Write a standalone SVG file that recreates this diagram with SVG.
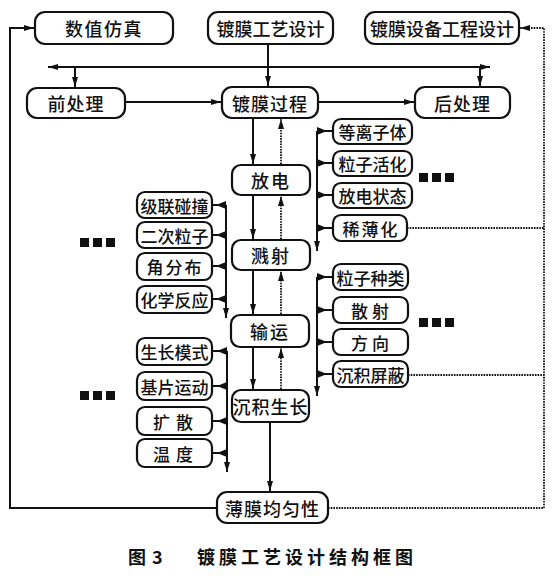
<svg xmlns="http://www.w3.org/2000/svg" width="553" height="580" viewBox="0 0 553 580">
<style>
.box{fill:#fff;stroke:#111;stroke-width:2.2}
.t{font-family:"Noto Sans CJK SC","Noto Sans CJK JP",sans-serif;font-size:18px;font-weight:500;fill:#111;text-anchor:middle;dominant-baseline:central}
.s{font-size:17px}
.ln{fill:none;stroke:#111;stroke-width:2}
.dt{fill:none;stroke:#111;stroke-width:1.8;stroke-dasharray:1.6 1.1}
.cap{font-family:"Noto Sans CJK SC","Noto Sans CJK JP",sans-serif;font-size:18px;font-weight:bold;fill:#111}
</style>
<defs>
<marker id="ah" viewBox="0 0 10 6" refX="10" refY="3" markerWidth="10" markerHeight="6" markerUnits="userSpaceOnUse" orient="auto"><path d="M0,0 L10,3 L0,6 z" fill="#111"/></marker>
<marker id="jt" viewBox="0 0 10 8" refX="0" refY="4" markerWidth="10" markerHeight="8" markerUnits="userSpaceOnUse" orient="auto"><path d="M0,0 L10,4 L0,8 z" fill="#111"/></marker>
</defs>

<g id="connectors">
  <path class="ln" d="M268,44 V86" marker-end="url(#ah)"/>
  <path class="ln" d="M268,67 H48" marker-end="url(#ah)"/>
  <path class="ln" d="M268,67 H490" marker-end="url(#ah)"/>
  <path class="ln" d="M75,67 V87" marker-end="url(#ah)"/>
  <path class="ln" d="M480,67 V86" marker-end="url(#ah)"/>
  <path class="ln" d="M125,102 H221" marker-end="url(#ah)"/>
  <path class="ln" d="M318,102 H414" marker-end="url(#ah)"/>
  <path class="ln" d="M253,118 V164" marker-end="url(#ah)"/>
  <path class="dt" d="M281,164 V119" marker-end="url(#ah)"/>
  <path class="ln" d="M253,195 V239" marker-end="url(#ah)"/>
  <path class="dt" d="M281,239 V196" marker-end="url(#ah)"/>
  <path class="ln" d="M253,270 V314" marker-end="url(#ah)"/>
  <path class="dt" d="M281,314 V271" marker-end="url(#ah)"/>
  <path class="ln" d="M253,347 V389" marker-end="url(#ah)"/>
  <path class="dt" d="M281,389 V348" marker-end="url(#ah)"/>
  <path class="ln" d="M270,422 V491" marker-end="url(#ah)"/>
  <path class="ln" d="M217,508 H10 V28 H34" marker-end="url(#ah)"/>
  <path class="dt" d="M328,508 H544 V28 H520" marker-end="url(#ah)"/>
  <path class="dt" d="M407,228 H544"/>
  <path class="dt" d="M408,375 H544"/>
  <path class="ln" d="M226,205 V318" marker-end="url(#ah)"/>
  <path class="ln" d="M226,205 H212" marker-start="url(#jt)"/>
  <path class="ln" d="M226,235 H212" marker-start="url(#jt)"/>
  <path class="ln" d="M226,266 H212" marker-start="url(#jt)"/>
  <path class="ln" d="M226,299 H212" marker-start="url(#jt)"/>
  <path class="ln" d="M227,351 V472" marker-end="url(#ah)"/>
  <path class="ln" d="M227,351 H212" marker-start="url(#jt)"/>
  <path class="ln" d="M227,386 H212" marker-start="url(#jt)"/>
  <path class="ln" d="M227,421 H212" marker-start="url(#jt)"/>
  <path class="ln" d="M227,453 H212" marker-start="url(#jt)"/>
  <path class="ln" d="M317,131 V251" marker-end="url(#ah)"/>
  <path class="ln" d="M317,131 H333" marker-start="url(#jt)"/>
  <path class="ln" d="M317,163 H333" marker-start="url(#jt)"/>
  <path class="ln" d="M317,195 H333" marker-start="url(#jt)"/>
  <path class="ln" d="M317,228 H333" marker-start="url(#jt)"/>
  <path class="ln" d="M317,277 V396" marker-end="url(#ah)"/>
  <path class="ln" d="M317,277 H333" marker-start="url(#jt)"/>
  <path class="ln" d="M317,310 H333" marker-start="url(#jt)"/>
  <path class="ln" d="M317,342 H333" marker-start="url(#jt)"/>
  <path class="ln" d="M317,374 H333" marker-start="url(#jt)"/>
</g>

<g id="n-shuzhi"><rect class="box" x="35" y="12" width="138" height="32" rx="10"/><text class="t" x="104" y="28" letter-spacing="1.5">数值仿真</text></g>
<g id="n-gongyi"><rect class="box" x="208" y="12" width="125" height="32" rx="10"/><text class="t" x="270.5" y="28">镀膜工艺设计</text></g>
<g id="n-shebei"><rect class="box" x="365" y="12" width="154" height="32" rx="10"/><text class="t" x="442" y="28">镀膜设备工程设计</text></g>
<g id="n-qian"><rect class="box" x="27" y="88" width="98" height="30" rx="10"/><text class="t" x="76" y="103" letter-spacing="1">前处理</text></g>
<g id="n-guocheng"><rect class="box" x="222" y="87" width="96" height="31" rx="10"/><text class="t" x="270" y="102.5" letter-spacing="1">镀膜过程</text></g>
<g id="n-hou"><rect class="box" x="415" y="87" width="95" height="31" rx="10"/><text class="t" x="462.5" y="102.5" letter-spacing="1">后处理</text></g>

<g id="n-fangdian"><rect class="box" x="232" y="165" width="78" height="30" rx="9"/><text class="t" x="271" y="180" letter-spacing="2">放电</text></g>
<g id="n-jianshe"><rect class="box" x="232" y="240" width="78" height="30" rx="9"/><text class="t" x="271" y="255" letter-spacing="2">溅射</text></g>
<g id="n-shuyun"><rect class="box" x="231" y="315" width="78" height="32" rx="9"/><text class="t" x="270" y="331" letter-spacing="2">输运</text></g>
<g id="n-chenji"><rect class="box" x="232" y="390" width="77" height="32" rx="9"/><text class="t" x="270.5" y="406" letter-spacing="1">沉积生长</text></g>
<g id="n-junyun"><rect class="box" x="217" y="492" width="111" height="31" rx="10"/><text class="t" x="272.5" y="507.5" letter-spacing="1">薄膜均匀性</text></g>

<g id="n-jilian"><rect class="box" x="137" y="192" width="75" height="26" rx="8"/><text class="t s" x="174.5" y="205">级联碰撞</text></g>
<g id="n-erci"><rect class="box" x="137" y="222" width="75" height="26" rx="8"/><text class="t s" x="174.5" y="235">二次粒子</text></g>
<g id="n-jiao"><rect class="box" x="137" y="253" width="75" height="27" rx="8"/><text class="t s" x="175" y="266.5" letter-spacing="2">角分布</text></g>
<g id="n-huaxue"><rect class="box" x="137" y="286" width="75" height="27" rx="8"/><text class="t s" x="174.5" y="299.5">化学反应</text></g>

<g id="n-shengzhang"><rect class="box" x="137" y="338" width="75" height="27" rx="8"/><text class="t s" x="174.5" y="351.5">生长模式</text></g>
<g id="n-jipian"><rect class="box" x="137" y="372" width="75" height="28" rx="8"/><text class="t s" x="174.5" y="386">基片运动</text></g>
<g id="n-kuosan"><rect class="box" x="137" y="407" width="75" height="28" rx="8"/><text class="t s" x="176" y="421" letter-spacing="6">扩散</text></g>
<g id="n-wendu"><rect class="box" x="137" y="439" width="75" height="28" rx="8"/><text class="t s" x="176" y="453" letter-spacing="6">温度</text></g>

<g id="n-dengli"><rect class="box" x="333" y="119" width="79" height="25" rx="8"/><text class="t s" x="372.5" y="131.5">等离子体</text></g>
<g id="n-huohua"><rect class="box" x="333" y="151" width="79" height="25" rx="8"/><text class="t s" x="372.5" y="163.5">粒子活化</text></g>
<g id="n-zhuangtai"><rect class="box" x="333" y="183" width="79" height="25" rx="8"/><text class="t s" x="372.5" y="195.5">放电状态</text></g>
<g id="n-xibo"><rect class="box" x="333" y="215" width="74" height="26" rx="8"/><text class="t s" x="371" y="228" letter-spacing="2">稀薄化</text></g>

<g id="n-zhonglei"><rect class="box" x="333" y="264" width="75" height="26" rx="8"/><text class="t s" x="370.5" y="277">粒子种类</text></g>
<g id="n-sanshe"><rect class="box" x="333" y="297" width="75" height="26" rx="8"/><text class="t s" x="372" y="310" letter-spacing="4">散射</text></g>
<g id="n-fangxiang"><rect class="box" x="333" y="329" width="75" height="26" rx="8"/><text class="t s" x="372" y="342" letter-spacing="4">方向</text></g>
<g id="n-pingbi"><rect class="box" x="333" y="361" width="75" height="26" rx="8"/><text class="t s" x="370.5" y="374">沉积屏蔽</text></g>

<g id="dots" fill="#111">
  <rect x="80" y="238" width="9" height="9"/><rect x="93" y="238" width="9" height="9"/><rect x="106" y="238" width="9" height="9"/>
  <rect x="80" y="391" width="9" height="9"/><rect x="93" y="391" width="9" height="9"/><rect x="106" y="391" width="9" height="9"/>
  <rect x="419" y="173" width="9" height="9"/><rect x="432" y="173" width="9" height="9"/><rect x="445" y="173" width="9" height="9"/>
  <rect x="419" y="318" width="9" height="9"/><rect x="432" y="318" width="9" height="9"/><rect x="445" y="318" width="9" height="9"/>
</g>

<g id="caption">
  <text class="cap" x="128" y="564">图</text>
  <text class="cap" x="152" y="564">3</text>
  <text class="cap" x="197" y="564" letter-spacing="4">镀膜工艺设计结构框图</text>
</g>
</svg>
